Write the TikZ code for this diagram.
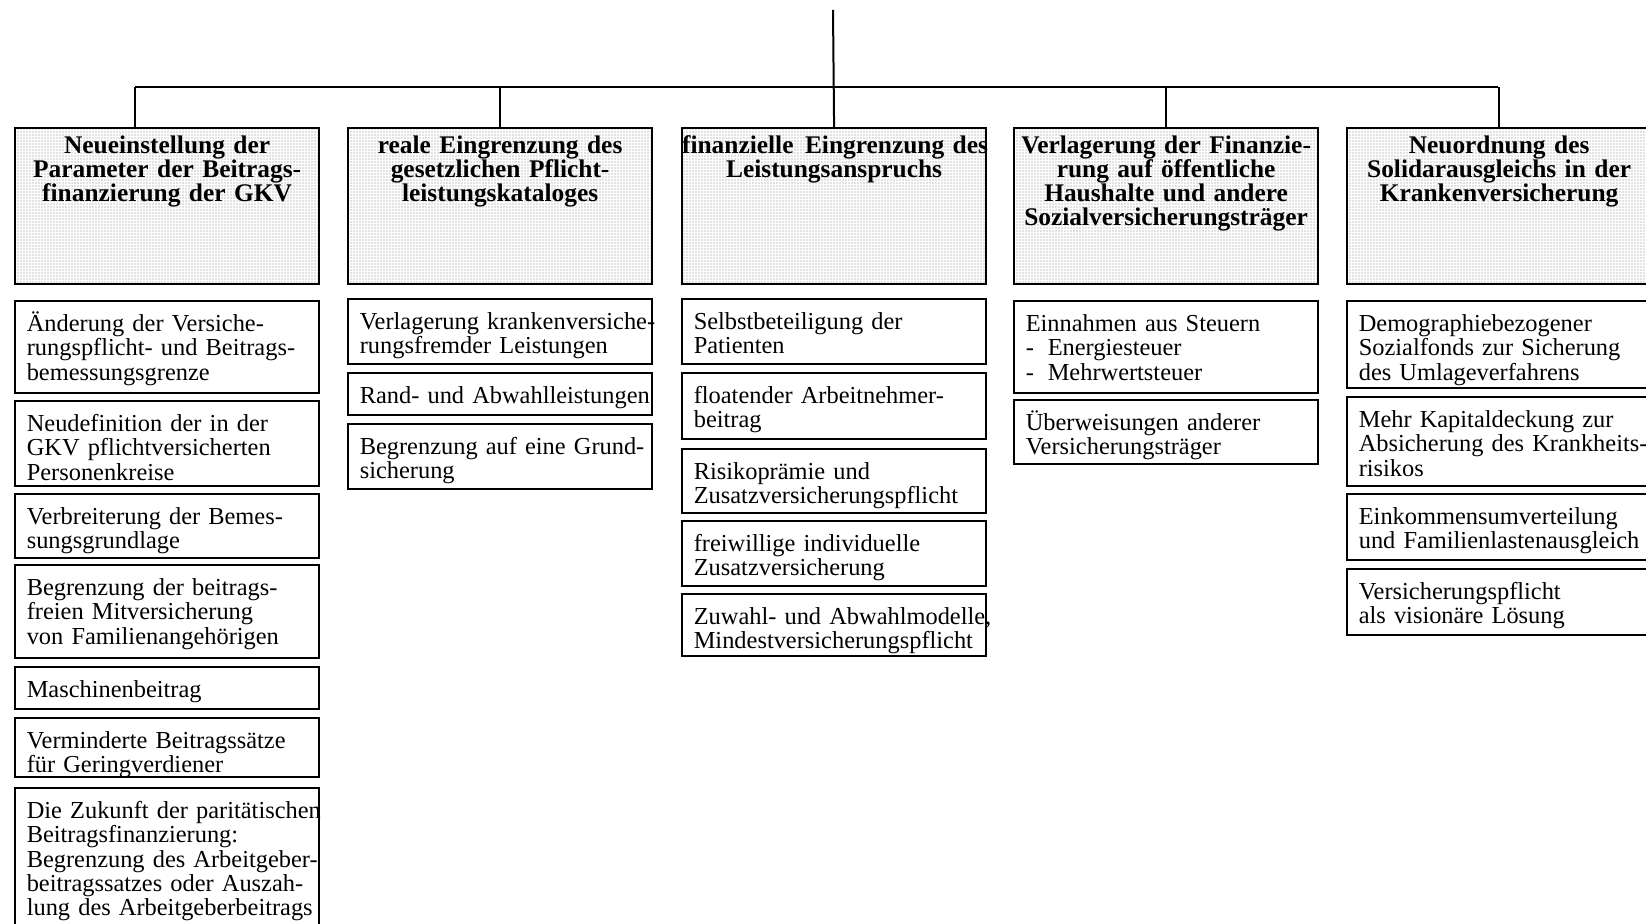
\documentclass[tikz,border=0pt]{standalone}
\usepackage{fontspec}
\setmainfont{Liberation Serif}
\usetikzlibrary{patterns.meta}

\newcommand\bodyfont{\fontsize{12.2}{12.1}\selectfont}
\newcommand\headfont{\fontsize{12.7}{12}\selectfont\bfseries}
\newcommand\keepleft{\raggedright\rightskip=0pt plus 1fil minus 60pt\relax}
\newcommand\keepcenter{\centering\rightskip=0pt plus 1fil minus 60pt\relax}

\tikzset{
  headbox/.style={draw, line width=1.1pt, anchor=north west,
    pattern={Dots[radius=0.3pt, distance=1.5pt]}, pattern color=gray,
    text width=152pt, inner xsep=0pt, inner ysep=0pt,
    font=\headfont, text height=12.5pt, text depth=65.5pt,
    execute at begin node=\keepcenter},
  subbox/.style={draw, line width=0.8pt, anchor=north west,
    text width=140pt, inner xsep=6pt, inner ysep=0pt,
    font=\bodyfont, text height=15.5pt, text depth={#1-15.5pt},
    execute at begin node=\keepleft},
  branch/.style={line width=1pt}
}

\begin{document}
\begin{tikzpicture}[x=0.5pt, y=-0.5pt]
  \useasboundingbox (0,0) rectangle (1646,924);
  \clip (0,0) rectangle (1646,924);

  \node[headbox] (h1) at (14,127) {Neueinstellung der\\Parameter der Beitrags-\\finanzierung der GKV};
  \node[headbox] (h2) at (347,127) {reale Eingrenzung des\\gesetzlichen Pflicht-\\leistungskataloges};
  \node[headbox] (h3) at (681,127) {finanzielle\hspace{0.45em}Eingrenzung des\\Leistungsanspruchs};
  \node[headbox] (h4) at (1013,127) {Verlagerung der Finanzie-\\rung auf öffentliche\\Haushalte und andere\\Sozialversicherungsträger};
  \node[headbox] (h5) at (1346,127) {Neuordnung des\\Solidarausgleichs in der\\Krankenversicherung};

  \coordinate (root) at (833,10);
  \coordinate (bl) at (135,87);
  \coordinate (br) at (1498,87);
  \draw[branch] (root) -- (h3.north);
  \draw[branch] (bl) -- (br);
  \draw[branch] (bl) -- (bl |- h1.north);
  \foreach \n in {h2,h4,h5} \draw[branch] (\n.north |- bl) -- (\n.north);

  \node[subbox=46pt] (c1a) at (14,300) {Änderung der Versiche-\\rungspflicht- und Beitrags-\\bemessungsgrenze};
  \node[subbox=42.5pt] (c1b) at (14,400) {Neudefinition der in der\\GKV pflichtversicherten\\Personenkreise};
  \node[subbox=32pt] (c1c) at (14,493) {Verbreiterung der Bemes-\\sungsgrundlage};
  \node[subbox=46.5pt] (c1d) at (14,564) {Begrenzung der beitrags-\\freien Mitversicherung\\von Familienangehörigen};
  \node[subbox=21pt] (c1e) at (14,666) {Maschinenbeitrag};
  \node[subbox=29.5pt] (c1f) at (14,717) {Verminderte Beitragssätze\\für Geringverdiener};
  \node[subbox=72.5pt] (c1g) at (14,787) {Die Zukunft der paritätischen\\Beitragsfinanzierung:\\Begrenzung des Arbeitgeber-\\beitragssatzes oder Auszah-\\lung des Arbeitgeberbeitrags};

  \node[subbox=32.5pt] (c2a) at (347,298) {Verlagerung krankenversiche-\\rungsfremder Leistungen};
  \node[subbox=21pt] (c2b) at (347,372) {Rand- und Abwahlleistungen};
  \node[subbox=32.5pt] (c2c) at (347,423) {Begrenzung auf eine Grund-\\sicherung};

  \node[subbox=32.5pt] (c3a) at (681,298) {Selbstbeteiligung der\\Patienten};
  \node[subbox=33pt] (c3b) at (681,372) {floatender Arbeitnehmer-\\beitrag};
  \node[subbox=32pt] (c3c) at (681,448) {Risikoprämie und\\Zusatzversicherungspflicht};
  \node[subbox=32.5pt] (c3d) at (681,520) {freiwillige individuelle\\Zusatzversicherung};
  \node[subbox=31pt] (c3e) at (681,593) {Zuwahl- und Abwahlmodelle,\\Mindestversicherungspflicht};

  \node[subbox=46pt] (c4a) at (1013,300) {Einnahmen aus Steuern\\\makebox[11pt][l]{-}Energiesteuer\\\makebox[11pt][l]{-}Mehrwertsteuer};
  \node[subbox=32pt] (c4b) at (1013,399) {Überweisungen anderer\\Versicherungsträger};

  \node[subbox=43.5pt] (c5a) at (1346,300) {Demographiebezogener\\Sozialfonds zur Sicherung\\des Umlageverfahrens};
  \node[subbox=44.5pt] (c5b) at (1346,396) {Mehr Kapitaldeckung zur\\Absicherung des Krankheits-\\risikos};
  \node[subbox=33pt] (c5c) at (1346,493) {Einkommensumverteilung\\und Familienlastenausgleich};
  \node[subbox=33pt] (c5d) at (1346,568) {Versicherungspflicht\\als visionäre Lösung};
\end{tikzpicture}
\end{document}
